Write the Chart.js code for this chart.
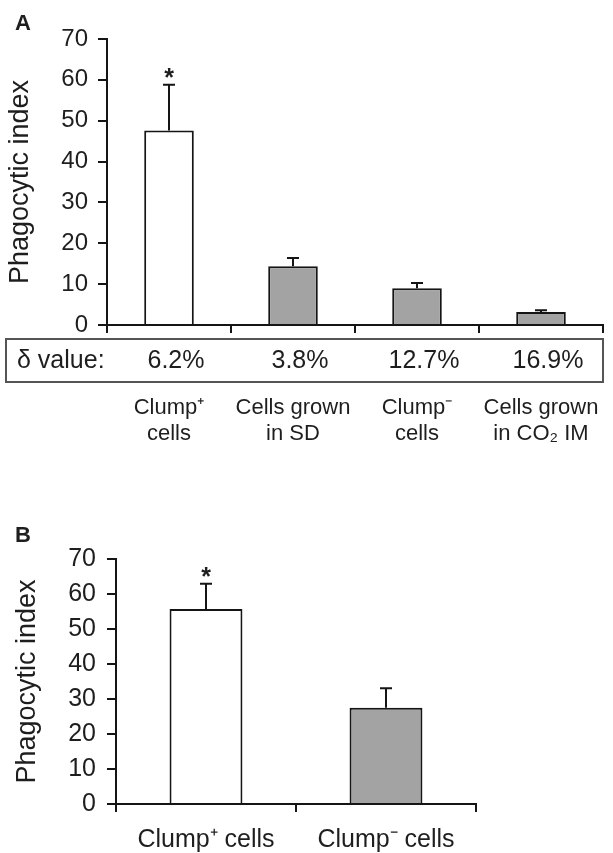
<!DOCTYPE html>
<html><head><meta charset="utf-8">
<script src="https://cdn.jsdelivr.net/npm/chart.js@4.4.1/dist/chart.umd.min.js"></script>
<style>
html,body{margin:0;padding:0;background:#fff;}
#wrap{position:relative;width:613px;height:853px;background:#fff;}
canvas{position:absolute;left:0;}
#cA{top:0;} #cB{top:480px;}
</style></head><body>
<div id="wrap"><canvas id="cA" width="613" height="480"></canvas><canvas id="cB" width="613" height="373"></canvas></div>
<script>
const FONT = "'Liberation Sans', Arial, Helvetica, sans-serif";
const TXT = '#1e1e1e';
const INK = '#151515';
const GRAY = '#a3a3a3';

// Panel A data
const categoriesA = [["Clump\u207A", "cells"], ["Cells grown", "in SD"], ["Clump\u207B", "cells"], ["Cells grown", "in CO\u2082 IM"]];
const meansA = [47.6, 14.4, 9.0, 3.2];
const errorsA = [11.2, 2.0, 1.3, 0.4];
const deltaLabel = "\u03B4 value:";
const deltaValues = ["6.2%", "3.8%", "12.7%", "16.9%"];
const fillsA = ['#ffffff', GRAY, GRAY, GRAY];
const signifA = [true, false, false, false];

// Panel B data
const categoriesB = ["Clump\u207A cells", "Clump\u207B cells"];
const meansB = [55.7, 27.5];
const errorsB = [7.2, 5.6];
const fillsB = ['#ffffff', GRAY];
const signifB = [true, false];

const yTicks = [0, 10, 20, 30, 40, 50, 60, 70];
const yTitle = "Phagocytic index";

Chart.defaults.font.family = FONT;
Chart.defaults.color = TXT;

function errorPlugin(id, means, errors, signif, letter, letterY, extra) {
  return {
    id,
    afterDatasetsDraw(chart) {
      const {ctx, scales: {x, y}} = chart;
      ctx.save();
      ctx.strokeStyle = INK; ctx.lineWidth = 2; ctx.lineCap = 'butt';
      means.forEach((m, i) => {
        const px = x.getPixelForValue(i);
        const y0 = y.getPixelForValue(m);
        const y1 = y.getPixelForValue(m + errors[i]);
        ctx.beginPath();
        ctx.moveTo(px, y0); ctx.lineTo(px, y1);
        ctx.moveTo(px - 6, y1); ctx.lineTo(px + 6, y1);
        ctx.stroke();
        if (signif[i]) {
          ctx.fillStyle = TXT;
          ctx.font = "bold 25px " + FONT;
          ctx.textAlign = 'center'; ctx.textBaseline = 'alphabetic';
          ctx.fillText('*', px, y1 + 1);
        }
      });
      ctx.fillStyle = TXT;
      ctx.font = "bold 22px " + FONT;
      ctx.textAlign = 'left'; ctx.textBaseline = 'alphabetic';
      ctx.fillText(letter, 15, letterY);
      if (extra) extra(chart);
      ctx.restore();
    }
  };
}

function deltaBox(chart) {
  const {ctx, scales: {x, y}} = chart;
  const top = y.bottom + 14, h = 43, left = 6;
  ctx.save();
  ctx.strokeStyle = '#555'; ctx.lineWidth = 2;
  ctx.strokeRect(left, top, x.right - left, h);
  ctx.fillStyle = TXT;
  ctx.font = "25px " + FONT;
  ctx.textBaseline = 'middle';
  ctx.textAlign = 'left';
  ctx.fillText(deltaLabel, 17, top + h / 2 + 1);
  ctx.textAlign = 'center';
  deltaValues.forEach((v, i) => {
    ctx.fillText(v, x.getPixelForValue(i) + 7, top + h / 2 + 1);
  });
  ctx.restore();
}

function makeChart(canvas, cats, means, fills, cfg) {
  return new Chart(canvas, {
    type: 'bar',
    data: {
      labels: cats,
      datasets: [{
        data: means,
        backgroundColor: fills,
        borderColor: INK,
        borderWidth: 2,
        barPercentage: cfg.barPct,
        categoryPercentage: 1
      }]
    },
    options: {
      responsive: false,
      animation: false,
      devicePixelRatio: 1,
      layout: {padding: cfg.padding},
      plugins: {legend: {display: false}, tooltip: {enabled: false}},
      scales: {
        x: {
          offset: true,
          ticks: {font: {size: cfg.xFont, lineHeight: cfg.xLine}, color: TXT, padding: cfg.xPad, maxRotation: 0, autoSkip: false},
          grid: {offset: true, drawOnChartArea: false, drawTicks: true, tickLength: 8, color: INK, lineWidth: 2},
          border: {display: true, color: INK, width: 2},
          afterFit(s) { s.height = cfg.xHeight; s.paddingLeft = 0; s.paddingRight = 0; }
        },
        y: {
          min: 0, max: 70,
          afterBuildTicks(s) { s.ticks = yTicks.map(v => ({value: v})); },
          ticks: {font: {size: cfg.yFont}, color: TXT, padding: cfg.yPad},
          grid: {drawOnChartArea: false, drawTicks: true, tickLength: 9, color: INK, lineWidth: 2},
          border: {display: true, color: INK, width: 2},
          title: {display: true, text: yTitle, font: {size: 27}, color: TXT, padding: {top: cfg.titlePad, bottom: 0}},
          afterFit(s) { s.width = cfg.yWidth; s.paddingTop = 0; s.paddingBottom = 0; }
        }
      }
    },
    plugins: [cfg.plugin]
  });
}

makeChart(document.getElementById('cA'), categoriesA, meansA, fillsA, {
  barPct: 0.4,
  padding: {top: 39, right: 10, left: 0, bottom: 0},
  xFont: 22, xLine: 1.18, xPad: 62, xHeight: 155,
  yFont: 24, yPad: 10, yWidth: 107, titlePad: 4,
  plugin: errorPlugin('errA', meansA, errorsA, signifA, 'A', 30, deltaBox)
});

makeChart(document.getElementById('cB'), categoriesB, meansB, fillsB, {
  barPct: 0.405,
  padding: {top: 79, right: 137, left: 0, bottom: 0},
  xFont: 25, xLine: 1.2, xPad: 13, xHeight: 49,
  yFont: 25, yPad: 11, yWidth: 116, titlePad: 11,
  plugin: errorPlugin('errB', meansB, errorsB, signifB, 'B', 62, null)
});
</script>
</body></html>
